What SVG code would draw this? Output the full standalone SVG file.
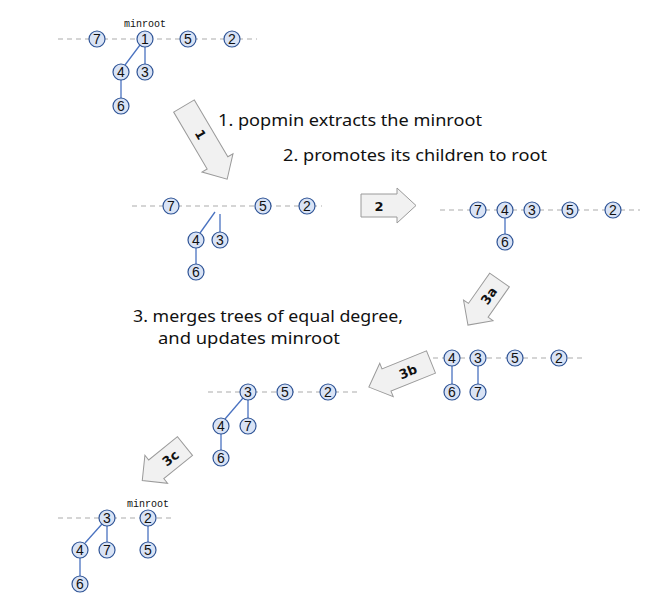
<svg xmlns="http://www.w3.org/2000/svg" width="668" height="611" viewBox="0 0 668 611">
<style>
.bg{fill:#ffffff}
.rl{stroke:#c8c8c8;stroke-width:1.5;stroke-dasharray:5 4;fill:none}
.ed{stroke:#4a72c0;stroke-width:1.3;fill:none}
.nd circle{fill:#d9e3f5;stroke:#2f5496;stroke-width:1.2}
.nd text{font-family:"Liberation Sans",Arial,sans-serif;font-size:14px;fill:#111;text-anchor:middle}
.mr{font-family:"Liberation Mono","DejaVu Sans Mono",monospace;font-size:10px;fill:#111;text-anchor:middle}
.ar path{fill:#f1f1f1;stroke:#9a9a9a;stroke-width:1}
.ar text{font-family:"DejaVu Sans",sans-serif;font-weight:bold;font-size:13px;fill:#111;text-anchor:middle}
.cap{font-family:"Noto Sans","DejaVu Sans",sans-serif;font-size:17px;fill:#111}
</style>
<rect class="bg" width="668" height="611"/>

<g id="connectors">
<line class="rl" x1="58" y1="39" x2="257" y2="39"/>
<line class="ed" x1="140" y1="45" x2="125" y2="65"/>
<line class="ed" x1="145" y1="47" x2="145" y2="64"/>
<line class="ed" x1="121" y1="80" x2="121" y2="98"/>

<line class="rl" x1="132" y1="206" x2="322" y2="206"/>
<line class="ed" x1="215" y1="212" x2="200" y2="233"/>
<line class="ed" x1="220" y1="214" x2="220" y2="232"/>
<line class="ed" x1="196" y1="248" x2="196" y2="264"/>

<line class="rl" x1="440" y1="210" x2="640" y2="210"/>
<line class="ed" x1="505" y1="218" x2="505" y2="234"/>

<line class="rl" x1="433" y1="358" x2="583" y2="358"/>
<line class="ed" x1="452" y1="366" x2="452" y2="384"/>
<line class="ed" x1="478" y1="366" x2="478" y2="384"/>

<line class="rl" x1="208" y1="392" x2="357" y2="392"/>
<line class="ed" x1="243" y1="398" x2="225" y2="419"/>
<line class="ed" x1="248" y1="400" x2="248" y2="418"/>
<line class="ed" x1="221" y1="434" x2="221" y2="450"/>

<line class="rl" x1="58" y1="518" x2="175" y2="518"/>
<line class="ed" x1="102" y1="524" x2="85" y2="543"/>
<line class="ed" x1="107" y1="526" x2="107" y2="542"/>
<line class="ed" x1="148" y1="526" x2="148" y2="542"/>
<line class="ed" x1="80" y1="558" x2="80" y2="576"/>
</g>

<!-- stage 0 -->
<text class="mr" x="145" y="27">minroot</text>
<g id="s0n7" class="nd"><circle cx="97" cy="39" r="8"/><text x="97" y="44">7</text></g>
<g id="s0n1" class="nd"><circle cx="145" cy="39" r="8"/><text x="145" y="44">1</text></g>
<g id="s0n5" class="nd"><circle cx="188" cy="39" r="8"/><text x="188" y="44">5</text></g>
<g id="s0n2" class="nd"><circle cx="232" cy="39" r="8"/><text x="232" y="44">2</text></g>
<g id="s0n4" class="nd"><circle cx="121" cy="72" r="8"/><text x="121" y="77">4</text></g>
<g id="s0n3" class="nd"><circle cx="145" cy="72" r="8"/><text x="145" y="77">3</text></g>
<g id="s0n6" class="nd"><circle cx="121" cy="106" r="8"/><text x="121" y="111">6</text></g>

<!-- stage 1 -->
<g id="s1n7" class="nd"><circle cx="171" cy="206" r="8"/><text x="171" y="211">7</text></g>
<g id="s1n5" class="nd"><circle cx="263" cy="206" r="8"/><text x="263" y="211">5</text></g>
<g id="s1n2" class="nd"><circle cx="307" cy="206" r="8"/><text x="307" y="211">2</text></g>
<g id="s1n4" class="nd"><circle cx="196" cy="240" r="8"/><text x="196" y="245">4</text></g>
<g id="s1n3" class="nd"><circle cx="220" cy="240" r="8"/><text x="220" y="245">3</text></g>
<g id="s1n6" class="nd"><circle cx="196" cy="272" r="8"/><text x="196" y="277">6</text></g>

<!-- stage 2 -->
<g id="s2n7" class="nd"><circle cx="478" cy="210" r="8"/><text x="478" y="215">7</text></g>
<g id="s2n4" class="nd"><circle cx="505" cy="210" r="8"/><text x="505" y="215">4</text></g>
<g id="s2n3" class="nd"><circle cx="532" cy="210" r="8"/><text x="532" y="215">3</text></g>
<g id="s2n5" class="nd"><circle cx="570" cy="210" r="8"/><text x="570" y="215">5</text></g>
<g id="s2n2" class="nd"><circle cx="613" cy="210" r="8"/><text x="613" y="215">2</text></g>
<g id="s2n6" class="nd"><circle cx="505" cy="242" r="8"/><text x="505" y="247">6</text></g>

<!-- stage 3a -->
<g id="s3n4" class="nd"><circle cx="452" cy="358" r="8"/><text x="452" y="363">4</text></g>
<g id="s3n3" class="nd"><circle cx="478" cy="358" r="8"/><text x="478" y="363">3</text></g>
<g id="s3n5" class="nd"><circle cx="515" cy="358" r="8"/><text x="515" y="363">5</text></g>
<g id="s3n2" class="nd"><circle cx="559" cy="358" r="8"/><text x="559" y="363">2</text></g>
<g id="s3n6" class="nd"><circle cx="452" cy="392" r="8"/><text x="452" y="397">6</text></g>
<g id="s3n7" class="nd"><circle cx="478" cy="392" r="8"/><text x="478" y="397">7</text></g>

<!-- stage 3b -->
<g id="s4n3" class="nd"><circle cx="248" cy="392" r="8"/><text x="248" y="397">3</text></g>
<g id="s4n5" class="nd"><circle cx="285" cy="392" r="8"/><text x="285" y="397">5</text></g>
<g id="s4n2" class="nd"><circle cx="328" cy="392" r="8"/><text x="328" y="397">2</text></g>
<g id="s4n4" class="nd"><circle cx="221" cy="426" r="8"/><text x="221" y="431">4</text></g>
<g id="s4n7" class="nd"><circle cx="248" cy="426" r="8"/><text x="248" y="431">7</text></g>
<g id="s4n6" class="nd"><circle cx="221" cy="458" r="8"/><text x="221" y="463">6</text></g>

<!-- stage 3c -->
<text class="mr" x="148" y="507">minroot</text>
<g id="s5n3" class="nd"><circle cx="107" cy="518" r="8"/><text x="107" y="523">3</text></g>
<g id="s5n2" class="nd"><circle cx="148" cy="518" r="8"/><text x="148" y="523">2</text></g>
<g id="s5n4" class="nd"><circle cx="80" cy="550" r="8"/><text x="80" y="555">4</text></g>
<g id="s5n7" class="nd"><circle cx="107" cy="550" r="8"/><text x="107" y="555">7</text></g>
<g id="s5n5" class="nd"><circle cx="148" cy="550" r="8"/><text x="148" y="555">5</text></g>
<g id="s5n6" class="nd"><circle cx="80" cy="584" r="8"/><text x="80" y="589">6</text></g>

<!-- block arrows -->
<g id="arrow1" class="ar" transform="translate(184,106) rotate(59.5)">
<path d="M0,-12 L66,-12 L66,-18 L85,0 L66,18 L66,12 L0,12 Z"/>
<text x="33" y="5">1</text>
</g>
<g id="arrow2" class="ar" transform="translate(361,205.5)">
<path d="M0,-11.5 L36,-11.5 L36,-17.5 L55,0 L36,17.5 L36,11.5 L0,11.5 Z"/>
<text x="18" y="5">2</text>
</g>
<g id="arrow3a" class="ar" transform="translate(499.5,280) rotate(125)">
<path d="M0,-12 L37,-12 L37,-18 L55,0 L37,18 L37,12 L0,12 Z"/>
<text x="19" y="5" transform="rotate(180 19 0)">3a</text>
</g>
<g id="arrow3b" class="ar" transform="translate(431,362) rotate(158)">
<path d="M0,-12 L48,-12 L48,-18 L67,0 L48,18 L48,12 L0,12 Z"/>
<text x="25" y="5" transform="rotate(180 25 0)">3b</text>
</g>
<g id="arrow3c" class="ar" transform="translate(185,446) rotate(141)">
<path d="M0,-12 L37,-12 L37,-18 L55,0 L37,18 L37,12 L0,12 Z"/>
<text x="19" y="5" transform="rotate(180 19 0)">3c</text>
</g>

<!-- captions -->
<text class="cap" x="218" y="126" textLength="264" lengthAdjust="spacingAndGlyphs">1. popmin extracts the minroot</text>
<text class="cap" x="283" y="161" textLength="264" lengthAdjust="spacingAndGlyphs">2. promotes its children to root</text>
<text class="cap" x="133" y="322" textLength="270" lengthAdjust="spacingAndGlyphs">3. merges trees of equal degree,</text>
<text class="cap" x="158" y="344" textLength="182" lengthAdjust="spacingAndGlyphs">and updates minroot</text>
</svg>
